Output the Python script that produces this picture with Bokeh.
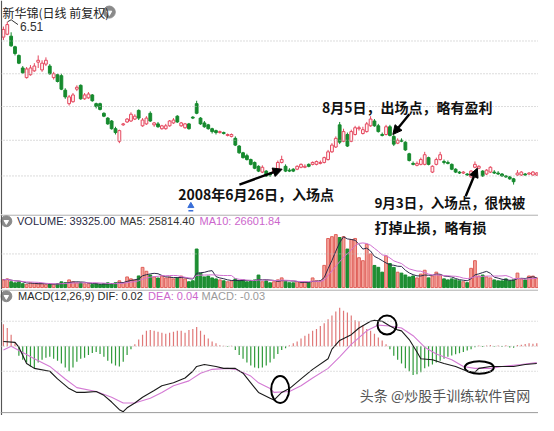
import pandas as pd
from bokeh.plotting import figure
from bokeh.layouts import column
from bokeh.models import Range1d, Span, Label, Arrow, NormalHead, ColumnDataSource
from bokeh.embed import file_html
from bokeh.resources import INLINE

# ---------------- data ----------------
open_ = [6.35, 6.38, 6.36, 6.25, 6.16, 6.03, 5.93, 5.96, 6.00, 6.09,
         6.01, 6.07, 6.05, 5.93, 5.96, 5.95, 5.80, 5.66, 5.68, 5.81,
         5.85, 5.71, 5.72, 5.75, 5.66, 5.66, 5.56, 5.51, 5.48, 5.40,
         5.27, 5.44, 5.47, 5.48, 5.50, 5.59, 5.43, 5.45, 5.56, 5.44,
         5.45, 5.40, 5.40, 5.43, 5.46, 5.53, 5.43, 5.41, 5.45, 5.52,
         5.66, 5.51, 5.46, 5.44, 5.40, 5.38, 5.36, 5.36, 5.33, 5.32,
         5.30, 5.22, 5.15, 5.12, 5.08, 5.05, 5.01, 4.95, 4.96, 4.93,
         4.95, 4.98, 5.05, 5.01, 4.97, 4.98, 4.98, 5.00, 5.00, 5.03,
         5.03, 5.03, 5.04, 5.05, 5.08, 5.16, 5.21, 5.44, 5.27, 5.34,
         5.27, 5.34, 5.40, 5.35, 5.37, 5.43, 5.48, 5.43, 5.34, 5.34,
         5.42, 5.32, 5.25, 5.28, 5.26, 5.14, 5.04, 5.02, 5.03, 5.03,
         5.10, 4.95, 5.03, 5.08, 5.06, 5.05, 5.03, 4.98, 4.95, 4.94,
         4.93, 4.90, 5.00, 4.99, 4.96, 4.93, 4.95, 4.95, 4.94, 4.93,
         4.91, 4.90, 4.88, 4.92, 4.92, 4.93, 4.93, 4.92, 4.92]
high = [6.46, 6.51, 6.40, 6.26, 6.17, 6.05, 6.04, 6.06, 6.08, 6.16,
        6.11, 6.14, 6.07, 5.99, 5.97, 5.97, 5.82, 5.75, 5.77, 5.85,
        5.86, 5.77, 5.78, 5.76, 5.67, 5.67, 5.57, 5.52, 5.49, 5.42,
        5.39, 5.46, 5.51, 5.57, 5.55, 5.60, 5.51, 5.53, 5.58, 5.47,
        5.47, 5.44, 5.45, 5.49, 5.51, 5.54, 5.47, 5.46, 5.46, 5.53,
        5.69, 5.52, 5.48, 5.45, 5.41, 5.39, 5.38, 5.37, 5.35, 5.35,
        5.32, 5.23, 5.16, 5.14, 5.09, 5.06, 5.02, 5.02, 4.97, 4.95,
        4.98, 5.07, 5.12, 5.03, 4.99, 4.99, 5.02, 5.04, 5.03, 5.04,
        5.06, 5.07, 5.07, 5.11, 5.18, 5.25, 5.32, 5.47, 5.40, 5.36,
        5.39, 5.43, 5.43, 5.42, 5.47, 5.53, 5.50, 5.45, 5.36, 5.44,
        5.44, 5.34, 5.30, 5.30, 5.27, 5.15, 5.06, 5.06, 5.10, 5.16,
        5.11, 5.02, 5.10, 5.16, 5.08, 5.07, 5.04, 4.99, 4.96, 4.96,
        4.94, 4.97, 5.06, 5.02, 4.97, 4.98, 5.01, 4.97, 4.96, 4.94,
        4.92, 4.91, 4.89, 4.97, 4.96, 4.94, 4.95, 4.96, 4.95]
low = [6.32, 6.37, 6.25, 6.16, 6.07, 5.97, 5.92, 5.95, 5.99, 6.03,
       5.99, 6.05, 5.96, 5.91, 5.88, 5.80, 5.71, 5.64, 5.67, 5.79,
       5.70, 5.70, 5.71, 5.68, 5.61, 5.59, 5.52, 5.44, 5.39, 5.34,
       5.25, 5.43, 5.46, 5.47, 5.49, 5.49, 5.42, 5.44, 5.47, 5.42,
       5.41, 5.39, 5.39, 5.42, 5.45, 5.46, 5.42, 5.40, 5.39, 5.50,
       5.55, 5.44, 5.41, 5.39, 5.35, 5.34, 5.35, 5.34, 5.32, 5.31,
       5.22, 5.14, 5.09, 5.07, 5.02, 4.98, 4.95, 4.94, 4.90, 4.90,
       4.93, 4.97, 5.04, 4.95, 4.95, 4.95, 4.97, 4.99, 4.99, 5.00,
       5.02, 5.02, 5.03, 5.04, 5.07, 5.15, 5.20, 5.24, 5.26, 5.21,
       5.26, 5.33, 5.38, 5.34, 5.36, 5.42, 5.42, 5.36, 5.32, 5.33,
       5.32, 5.22, 5.24, 5.26, 5.17, 5.06, 5.02, 5.01, 5.02, 5.02,
       5.02, 4.94, 5.02, 5.07, 5.03, 5.03, 4.97, 4.94, 4.93, 4.93,
       4.91, 4.89, 4.99, 4.98, 4.90, 4.92, 4.94, 4.93, 4.92, 4.90,
       4.89, 4.87, 4.82, 4.91, 4.91, 4.91, 4.92, 4.91, 4.91]
close = [6.43, 6.48, 6.26, 6.18, 6.08, 5.98, 6.02, 6.03, 6.05, 6.11,
         6.08, 6.11, 5.97, 5.97, 5.89, 5.81, 5.73, 5.73, 5.75, 5.83,
         5.71, 5.75, 5.76, 5.69, 5.63, 5.60, 5.53, 5.45, 5.40, 5.36,
         5.38, 5.45, 5.50, 5.55, 5.53, 5.51, 5.49, 5.51, 5.48, 5.46,
         5.42, 5.43, 5.43, 5.48, 5.49, 5.47, 5.46, 5.45, 5.40, 5.51,
         5.56, 5.45, 5.42, 5.40, 5.37, 5.36, 5.37, 5.35, 5.34, 5.34,
         5.23, 5.15, 5.10, 5.08, 5.03, 4.99, 4.96, 5.00, 4.91, 4.92,
         4.97, 5.05, 5.08, 4.96, 4.96, 4.96, 5.01, 5.03, 5.01, 5.01,
         5.05, 5.06, 5.05, 5.10, 5.16, 5.23, 5.30, 5.26, 5.37, 5.22,
         5.37, 5.41, 5.41, 5.39, 5.45, 5.50, 5.43, 5.37, 5.33, 5.42,
         5.33, 5.24, 5.28, 5.27, 5.18, 5.07, 5.03, 5.04, 5.08, 5.13,
         5.03, 5.01, 5.08, 5.13, 5.05, 5.04, 4.98, 4.95, 4.94, 4.95,
         4.92, 4.96, 5.03, 5.01, 4.91, 4.97, 5.00, 4.94, 4.93, 4.91,
         4.90, 4.88, 4.85, 4.94, 4.95, 4.92, 4.94, 4.95, 4.94]
volume = [32400, 36100, 24300, 19800, 23600, 16200, 12500, 19700, 16400, 15800,
          16300, 12100, 15700, 12400, 16100, 23800, 20300, 31900, 24200, 19600,
          20400, 15800, 16200, 12300, 15900, 12600, 16300, 19800, 16100, 20200,
          28100, 19900, 44200, 36300, 31800, 48400, 84100, 67800, 52300, 44100,
          39800, 48300, 40100, 43900, 36200, 40400, 47900, 36100, 24200, 28300,
          160400, 59800, 44300, 47800, 40200, 36100, 31900, 28200, 24100, 27800,
          36200, 28100, 32300, 24100, 28400, 31800, 52100, 24300, 28100, 19900,
          24200, 32100, 40300, 23800, 20100, 19800, 24300, 20200, 23900, 19700,
          40100, 28300, 27900, 92300, 204100, 211800, 220400, 208300, 211900, 160200,
          199800, 204300, 124100, 111800, 180200, 139900, 92100, 84300, 64100, 131800,
          100200, 84100, 63900, 60100, 52300, 44100, 48200, 40100, 56200, 72100,
          40300, 48100, 64200, 52100, 36300, 31900, 36100, 32200, 28100, 24200,
          20300, 80100, 111900, 48200, 52100, 44300, 40100, 31800, 28200, 27900,
          36100, 28300, 32100, 60200, 36300, 31900, 48100, 47800, 39325]
macd_hist = [0.115, 0.095, 0.06, 0.02, -0.05, -0.07, -0.085, -0.105, -0.115, -0.085,
             -0.07, -0.06, -0.055, -0.065, -0.075, -0.09, -0.11, -0.13, -0.11, -0.08,
             -0.065, -0.06, -0.045, -0.035, -0.03, -0.04, -0.055, -0.075, -0.09, -0.1,
             -0.105, -0.08, -0.045, -0.015, 0.01, 0.035, 0.06, 0.08, 0.085, 0.08,
             0.075, 0.07, 0.065, 0.07, 0.075, 0.08, 0.08, 0.07, 0.085, 0.09,
             0.1, 0.08, 0.06, 0.04, 0.025, 0.015, 0.005, 0.003, -0.003, 0.003,
             -0.02, -0.045, -0.065, -0.085, -0.1, -0.11, -0.115, -0.11, -0.1, -0.085,
             -0.065, -0.04, -0.02, -0.01, 0.005, 0.015, 0.025, 0.04, 0.055, 0.065,
             0.08, 0.09, 0.105, 0.12, 0.14, 0.16, 0.18, 0.2, 0.185, 0.175,
             0.16, 0.135, 0.13, 0.11, 0.09, 0.08, 0.065, 0.045, 0.03, 0.01,
             -0.015, -0.05, -0.07, -0.09, -0.115, -0.13, -0.15, -0.145, -0.135, -0.115,
             -0.105, -0.095, -0.085, -0.075, -0.065, -0.055, -0.048, -0.042, -0.036, -0.03,
             -0.022, -0.016, -0.005, 0.004, -0.004, 0.004, 0.006, -0.003, 0.004, -0.004,
             0.005, -0.006, -0.008, 0.006, 0.008, 0.012, 0.015, 0.013, 0.016]
dif_idx = [0, 3, 4, 6, 8, 12, 14, 17, 19, 21, 24, 26, 28, 30, 31, 32, 34, 36, 39, 41,
           44, 47, 49, 50, 52, 55, 57, 60, 62, 64, 66, 69, 70, 72, 74, 77, 80, 84, 85, 87,
           90, 92, 95, 96, 98, 100, 102, 103, 105, 107, 108, 111, 114, 117, 120, 122, 123, 126, 129, 132,
           135, 138]
dif_val = [0.025, 0.02, -0.005, -0.09, -0.115, -0.13, -0.17, -0.22, -0.24, -0.24,
           -0.235, -0.255, -0.29, -0.33, -0.34, -0.32, -0.295, -0.265, -0.23, -0.205,
           -0.19, -0.165, -0.13, -0.105, -0.095, -0.105, -0.115, -0.115, -0.14, -0.19,
           -0.24, -0.27, -0.28, -0.24, -0.22, -0.17, -0.12, -0.065, -0.015, 0.03,
           0.06, 0.095, 0.13, 0.135, 0.13, 0.105, 0.085, 0.08, 0.035, -0.03,
           -0.065, -0.07, -0.09, -0.105, -0.13, -0.135, -0.115, -0.105, -0.105, -0.105,
           -0.095, -0.09]
dea_idx = [0, 2, 8, 12, 16, 19, 24, 28, 31, 34, 38, 41, 44, 48, 51, 54, 58, 60, 64, 66,
           69, 70, 74, 77, 80, 84, 87, 90, 94, 97, 100, 103, 106, 109, 112, 116, 119, 122, 126, 129,
           134, 138]
dea_val = [-0.02, 0.0, -0.065, -0.105, -0.17, -0.215, -0.235, -0.265, -0.295, -0.295,
           -0.27, -0.24, -0.205, -0.18, -0.14, -0.12, -0.115, -0.12, -0.155, -0.19,
           -0.22, -0.24, -0.235, -0.205, -0.165, -0.115, -0.055, 0.01, 0.08, 0.11,
           0.105, 0.095, 0.055, -0.005, -0.04, -0.07, -0.105, -0.115, -0.115, -0.105,
           -0.095, -0.085]

title_text = "新华锦(日线 前复权)"
high_label = "6.51"
vol_text = ["VOLUME: 39325.00", "MA5: 25814.40", "MA10: 26601.84"]
macd_text = ["MACD(12,26,9)", "DIF: 0.02", "DEA: 0.04", "MACD: -0.03"]
note_exit = "8月5日，出场点，略有盈利"
note_entry1 = "2008年6月26日，入场点"
note_entry2 = ["9月3日，入场点，很快被", "打掉止损，略有损"]
watermark = "头条 @炒股手训练软件官网"

# ---------------- layout helpers (reference pixel -> panel coords) ----------------
def ix(px):
    return (px - 3) / 3.98

def yp(py):
    return 6.73 - py / 100.0

def yv(py):
    return (298 - py) * 4000.0

def ym(py):
    return (359 - py) * 0.005

W = 538
xr = Range1d(ix(0), ix(554))

def mkfig(h, y0, y1):
    p = figure(width=W, height=h, x_range=xr, y_range=Range1d(y0, y1),
               output_backend="svg", toolbar_location=None,
               x_axis_type=None, y_axis_type=None, min_border=0)
    p.min_border_left = p.min_border_right = 0
    p.min_border_top = p.min_border_bottom = 0
    p.outline_line_color = None
    p.background_fill_color = "white"
    p.border_fill_color = "white"
    p.add_layout(Span(location=ix(1), dimension="height", line_color="#555555", line_width=1.2))
    return p

UP = "#e5485f"
UPFILL = "#fff3f3"
DN = "#168a2e"
CJK = "Noto Sans CJK SC"
LAT = "Liberation Sans"

n = len(close)
idx = list(range(n))
is_up = [c >= o for o, c in zip(open_, close)]

# ---------------- price panel ----------------
p1 = mkfig(214, yp(222), yp(0))
for g in [yp(42), yp(76), yp(110), yp(145), yp(182)]:
    p1.add_layout(Span(location=g, dimension="width", line_color="#b8b8b8",
                       line_dash="1 2", line_width=1))
src = ColumnDataSource(dict(
    i=idx, o=open_, h=high, l=low, c=close,
    top=[max(o, c) for o, c in zip(open_, close)],
    bot=[min(o, c) for o, c in zip(open_, close)],
    col=[UP if u else DN for u in is_up],
    fill=[UPFILL if u else DN for u in is_up]))
p1.segment(x0="i", y0="l", x1="i", y1="h", line_color="col", line_width=1, source=src)
p1.vbar(x="i", width=0.72, top="top", bottom="bot", fill_color="fill",
        line_color="col", line_width=1, source=src)

p1.add_layout(Label(x=ix(2), y=yp(12), text=title_text, text_font=CJK,
                    text_font_size="12px", text_color="#222222", text_baseline="middle"))
p1.scatter(x=[ix(112)], y=[yp(12)], size=12, marker="circle", color="#8a8a8a")
p1.scatter(x=[ix(112)], y=[yp(12.6)], size=5, marker="inverted_triangle", color="white")

imax = high.index(max(high))
p1.line(x=[imax + 0.1, ix(11), ix(18)], y=[high[imax], yp(20), yp(25)],
        line_color="#333333", line_width=1)
p1.add_layout(Label(x=ix(20), y=yp(27), text=high_label, text_font=LAT,
                    text_font_size="12px", text_color="#333333", text_baseline="middle"))

p1.scatter(x=[ix(196)], y=[yp(213)], size=6, marker="triangle", color="#3a6fd8")
p1.segment(x0=[ix(193.5)], y0=[yp(218)], x1=[ix(198.5)], y1=[yp(218)],
           line_color="#3a6fd8", line_width=1.5)

def note(p, x, y, t, size="14px"):
    p.add_layout(Label(x=x, y=y, text=t, text_font=CJK, text_font_size=size,
                       text_font_style="bold", text_color="#111111",
                       text_baseline="middle"))

note(p1, ix(331), yp(110), note_exit)
note(p1, ix(183), yp(201), note_entry1)
note(p1, ix(385), yp(209), note_entry2[0], "13.5px")

for (xs, ys, xe, ye) in [(ix(246), yp(191), ix(290), yp(175)),
                         (ix(421), yp(118), ix(404), yp(139)),
                         (ix(479), yp(203), ix(491), yp(174))]:
    p1.add_layout(Arrow(end=NormalHead(size=9, fill_color="black", line_color="black"),
                        x_start=xs, y_start=ys, x_end=xe, y_end=ye,
                        line_color="black", line_width=2.4))

# ---------------- volume panel ----------------
p2 = mkfig(75, yv(300), yv(222))
p2.add_layout(Span(location=yv(222.6), dimension="width", line_color="#9a9a9a", line_width=1))
p2.add_layout(Span(location=yv(263), dimension="width", line_color="#b8b8b8",
                   line_dash="1 2", line_width=1))
vsrc = ColumnDataSource(dict(
    i=idx, v=volume,
    col=["#e0605a" if u else DN for u in is_up],
    fill=["#f3a39b" if u else "#1f8f32" for u in is_up]))
p2.vbar(x="i", width=0.72, top="v", bottom=0, fill_color="fill", line_color="col",
        line_width=1, source=vsrc)
vs = pd.Series(volume, dtype=float)
ma5 = vs.rolling(5, min_periods=1).mean()
ma10 = vs.rolling(10, min_periods=1).mean()
p2.line(x=idx, y=list(ma5), line_color="#2b2b4a", line_width=1)
p2.line(x=idx, y=list(ma10), line_color="#d070d0", line_width=1)

p2.scatter(x=[ix(6)], y=[yv(229)], size=11, marker="circle", color="#8a8a8a")
p2.scatter(x=[ix(6)], y=[yv(229.6)], size=4.5, marker="inverted_triangle", color="white")
for (x, t, c) in [(17, vol_text[0], "#2a2a44"), (123, vol_text[1], "#333333"),
                  (205, vol_text[2], "#cc66cc")]:
    p2.add_layout(Label(x=ix(x), y=yv(229), text=t, text_font=LAT, text_font_size="11px",
                        text_color=c, text_baseline="middle"))
note(p2, ix(385), yv(235), note_entry2[1])

# ---------------- MACD panel ----------------
p3 = mkfig(126, ym(431), ym(300))
p3.add_layout(Span(location=ym(300.6), dimension="width", line_color="#9a9a9a", line_width=1))
p3.add_layout(Span(location=ym(428), dimension="width", line_color="#9a9a9a", line_width=1))
for g in [ym(333), ym(359), ym(385)]:
    p3.add_layout(Span(location=g, dimension="width", line_color="#c0c0c0",
                       line_dash="1 2", line_width=1))
hsrc = ColumnDataSource(dict(
    i=idx, h=macd_hist, z=[0.0] * n,
    col=["#e07878" if v >= 0 else "#2f9a3a" for v in macd_hist]))
p3.segment(x0="i", y0="z", x1="i", y1="h", line_color="col", line_width=1.2, source=hsrc)
p3.line(x=dea_idx, y=dea_val, line_color="#d47ad4", line_width=1.1)
p3.line(x=dif_idx, y=dif_val, line_color="#1a1a1a", line_width=1.1)

p3.ellipse(x=[ix(288), ix(398), ix(493)], y=[ym(404), ym(337), ym(381)],
           width=[18, 19, 29], height=[27, 19, 12.5],
           width_units="screen", height_units="screen",
           fill_color=None, line_color="black", line_width=2)

p3.scatter(x=[ix(6)], y=[ym(307)], size=11, marker="circle", color="#8a8a8a")
p3.scatter(x=[ix(6)], y=[ym(307.6)], size=4.5, marker="inverted_triangle", color="white")
for (x, t, c) in [(18, macd_text[0], "#2a2a2a"), (100, macd_text[1], "#2a2a2a"),
                  (152, macd_text[2], "#cc66cc"), (207, macd_text[3], "#9a9a9a")]:
    p3.add_layout(Label(x=ix(x), y=ym(307), text=t, text_font=LAT, text_font_size="11px",
                        text_color=c, text_baseline="middle"))
p3.add_layout(Label(x=ix(370), y=ym(410), text=watermark, text_font=CJK,
                    text_font_size="14px", text_color="#555555", text_baseline="middle"))

layout = column(p1, p2, p3, spacing=0)
open("out.html", "w").write(file_html(layout, INLINE))
